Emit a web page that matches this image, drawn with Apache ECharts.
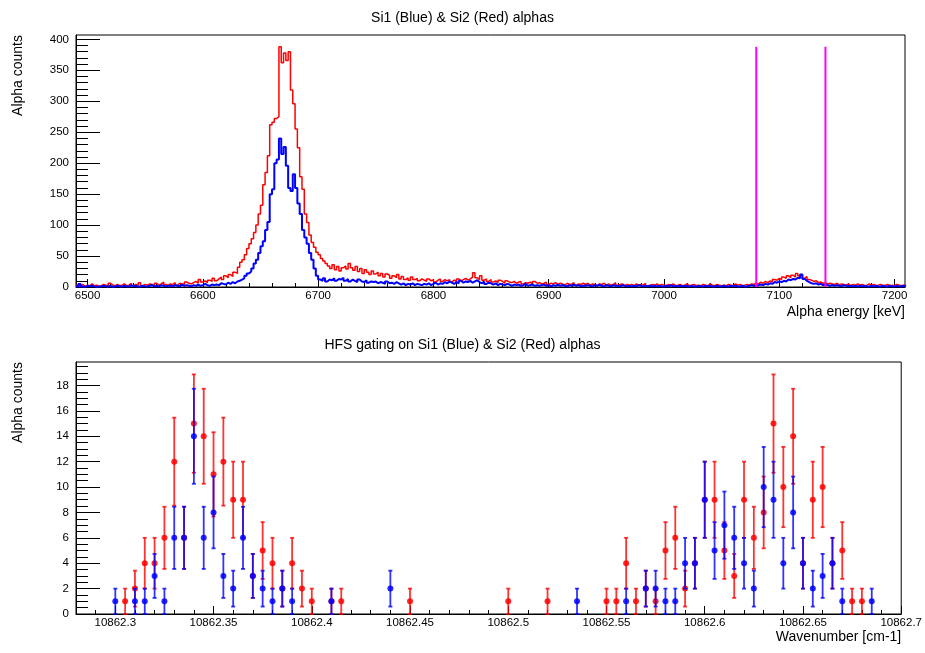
<!DOCTYPE html>
<html>
<head>
<meta charset="utf-8">
<script src="https://cdn.jsdelivr.net/npm/echarts@6/dist/echarts.min.js"></script>
<style>
  html, body { margin: 0; padding: 0; background: #fff; }
  #chart { width: 925px; height: 653px; }
</style>
</head>
<body>
<div id="chart"></div>
<script>
const FONT = 'Liberation Sans, Arial, Helvetica, sans-serif'

// alpha spectra, 2 keV bins starting at 6490 keV
const binStart = 6490
const binWidth = 2
const si2Counts = [
  3, 2, 4, 1, 3, 2, 5, 2, 3, 1,
  2, 4, 3, 2, 6, 3, 2, 4, 2, 3,
  5, 2, 3, 6, 2, 4, 3, 7, 2, 4,
  3, 5, 4, 2, 6, 3, 5, 8, 4, 3,
  5, 4, 7, 3, 6, 5, 4, 8, 6, 5,
  7, 9, 6, 12, 8, 10, 7, 11, 9, 14,
  10, 13, 16, 12, 18, 15, 20, 17, 24, 22,
  32, 40, 44, 52, 62, 70, 78, 88, 100, 118,
  132, 165, 185, 212, 262, 266, 272, 275, 388, 362,
  378, 366, 380, 318, 296, 255, 225, 178, 158, 118,
  104, 84, 72, 64, 56, 52, 46, 42, 38, 34,
  30, 36, 28, 33, 26, 31, 34, 29, 38, 31,
  27, 33, 25, 30, 22, 28, 24, 20, 26, 21,
  24, 18, 22, 16, 21, 19, 14, 18, 15, 20,
  13, 17, 12, 15, 11, 16, 12, 14, 10, 13,
  11, 9, 13, 10, 12, 8, 11, 13, 9, 12,
  10, 12, 8, 11, 9, 13, 10, 12, 14, 11,
  13, 16, 23, 15, 12, 18, 11, 13, 9, 12,
  8, 10, 7, 11, 9, 6, 10, 8, 7, 9,
  6, 8, 9, 5, 7, 6, 8, 5, 9, 6,
  7, 5, 6, 8, 4, 6, 5, 7, 4, 6,
  5, 3, 6, 4, 5, 7, 3, 5, 4, 6,
  4, 6, 3, 5, 4, 2, 5, 4, 6, 3,
  5, 3, 4, 7, 3, 4, 5, 2, 4, 3,
  4, 2, 5, 3, 4, 3, 6, 2, 3, 4,
  3, 5, 2, 4, 3, 2, 4, 3, 5, 2,
  3, 4, 2, 3, 5, 2, 3, 4, 2, 3,
  2, 4, 3, 2, 5, 3, 2, 4, 3, 2,
  3, 2, 4, 3, 2, 5, 3, 4, 2, 3,
  4, 3, 5, 4, 6, 5, 8, 6, 9, 7,
  10, 8, 12, 11, 14, 12, 16, 14, 18, 15,
  19, 16, 22, 18, 20, 14, 17, 12, 11, 9,
  10, 7, 8, 6, 7, 5, 6, 5, 4, 6,
  3, 5, 4, 3, 5, 2, 4, 3, 5, 3,
  4, 2, 3, 5, 3, 4, 2, 3, 4, 2,
  3, 4, 2, 3, 2, 4, 3, 2, 3, 2,
]
const si1Counts = [
  1, 5, 1, 0, 2, 1, 2, 1, 0, 1,
  1, 2, 1, 1, 2, 0, 1, 2, 1, 1,
  2, 1, 1, 3, 1, 2, 1, 1, 2, 1,
  1, 2, 3, 1, 2, 1, 3, 2, 1, 2,
  2, 1, 3, 2, 1, 4, 2, 3, 2, 1,
  3, 2, 4, 2, 3, 5, 3, 2, 4, 3,
  4, 3, 6, 5, 4, 7, 5, 8, 6, 9,
  10, 12, 14, 18, 22, 25, 30, 38, 44, 55,
  66, 74, 92, 105, 150, 158, 200, 206, 240, 215,
  226, 196, 160, 155, 182, 160, 135, 118, 92, 80,
  70, 55, 44, 30, 18, 12, 10, 14, 9, 12,
  11, 14, 10, 13, 12, 15, 10, 13, 9, 12,
  10, 8, 12, 9, 8, 11, 7, 9, 8, 9,
  6, 8, 7, 5, 9, 6, 7, 5, 8, 6,
  4, 6, 3, 5, 4, 6, 3, 5, 4, 3,
  5, 4, 6, 3, 5, 7, 4, 6, 5, 8,
  6, 9, 7, 5, 8, 6, 10, 7, 9, 8,
  10, 7, 9, 11, 8, 6, 9, 5, 7, 6,
  4, 6, 3, 5, 4, 3, 5, 4, 2, 4,
  3, 4, 2, 3, 5, 2, 3, 4, 2, 3,
  2, 3, 4, 2, 3, 1, 3, 2, 4, 2,
  3, 2, 1, 3, 2, 4, 2, 3, 1, 2,
  2, 3, 2, 1, 3, 2, 4, 2, 1, 3,
  2, 1, 3, 2, 2, 1, 3, 2, 1, 2,
  1, 2, 1, 3, 2, 1, 2, 1, 2, 1,
  2, 1, 2, 1, 1, 2, 1, 3, 1, 2,
  1, 2, 1, 2, 1, 1, 2, 1, 1, 2,
  1, 1, 2, 1, 2, 1, 1, 2, 1, 1,
  2, 1, 1, 2, 1, 2, 1, 1, 2, 1,
  1, 2, 3, 2, 1, 3, 4, 3, 5, 4,
  6, 5, 8, 7, 9, 8, 10, 9, 12, 11,
  13, 12, 15, 14, 20, 13, 10, 8, 6, 5,
  6, 4, 5, 3, 4, 3, 2, 3, 2, 3,
  2, 1, 3, 2, 1, 2, 1, 2, 1, 2,
  1, 2, 1, 1, 2, 1, 2, 1, 1, 2,
  1, 1, 2, 1, 1, 2, 1, 1, 2, 1,
]
const gateEnergies = [7080, 7140]
const gateHeight = 388
const energyTicks = [6500, 6600, 6700, 6800, 6900, 7000, 7100, 7200]
const countTicks = [0, 50, 100, 150, 200, 250, 300, 350, 400]

// HFS scan, gated counts per wavenumber step
const si1Wavenumber = [
  10862.300, 10862.310, 10862.315, 10862.320, 10862.325, 10862.330, 10862.335, 10862.340,
  10862.345, 10862.350, 10862.355, 10862.360, 10862.365, 10862.370, 10862.375, 10862.380,
  10862.385, 10862.390, 10862.410, 10862.440, 10862.535, 10862.560, 10862.570, 10862.575,
  10862.580, 10862.585, 10862.590, 10862.595, 10862.600, 10862.605, 10862.610, 10862.615,
  10862.620, 10862.625, 10862.630, 10862.635, 10862.640, 10862.645, 10862.650, 10862.655,
  10862.660, 10862.665, 10862.670, 10862.685,
]
const si1Hits = [
  1, 1, 1, 3, 1, 6, 6, 14,
  6, 8, 3, 2, 6, 3, 2, 1,
  2, 1, 1, 2, 1, 1, 2, 2,
  1, 1, 4, 4, 9, 5, 7, 6,
  4, 2, 10, 9, 4, 8, 4, 2,
  3, 4, 1, 1,
]
const si2Wavenumber = [
  10862.305, 10862.310, 10862.315, 10862.320, 10862.325, 10862.330, 10862.335, 10862.340,
  10862.345, 10862.350, 10862.355, 10862.360, 10862.365, 10862.370, 10862.375, 10862.380,
  10862.385, 10862.390, 10862.395, 10862.400, 10862.410, 10862.415, 10862.450, 10862.500,
  10862.520, 10862.550, 10862.555, 10862.560, 10862.565, 10862.570, 10862.575, 10862.580,
  10862.585, 10862.590, 10862.595, 10862.600, 10862.605, 10862.610, 10862.615, 10862.620,
  10862.625, 10862.630, 10862.635, 10862.640, 10862.645, 10862.650, 10862.655, 10862.660,
  10862.665, 10862.670, 10862.675, 10862.680,
]
const si2Hits = [
  1, 2, 4, 4, 6, 12, 6, 15,
  14, 11, 12, 9, 9, 3, 5, 4,
  2, 4, 2, 1, 1, 1, 1, 1,
  1, 1, 1, 4, 1, 2, 1, 5,
  6, 2, 4, 9, 9, 5, 3, 9,
  6, 8, 15, 10, 14, 4, 9, 10,
  4, 5, 1, 1,
]
const wavenumberTicks = [10862.3, 10862.35, 10862.4, 10862.45, 10862.5, 10862.55, 10862.6, 10862.65, 10862.7]
const hitTicks = [0, 2, 4, 6, 8, 10, 12, 14, 16, 18]

const RED = '#ff0000'
const BLUE = '#0000ff'

function histPoints(counts) {
  const pts = [[binStart, counts[0]]]
  counts.forEach((c, i) => pts.push([binStart + binWidth * (i + 0.5), c]))
  pts.push([binStart + binWidth * counts.length, counts[counts.length - 1]])
  return pts
}

function minorList(from, to, step, majors) {
  const out = []
  for (let v = from; v <= to + step / 2; v += step) {
    const r = Math.round(v * 1000) / 1000
    if (!majors.some(m => Math.abs(m - r) < step / 10)) out.push(r)
  }
  return out
}

const fmt = v => String(parseFloat(Number(v).toFixed(3)))
const labelText = { color: '#000', fontFamily: FONT, fontSize: 11.5 }

// a value axis drawn ROOT-style: ticks inside, own tick list
function axis(kind, grid, min, max, ticks, tickLen, withLabels, extra) {
  const a = {
    type: 'value', gridIndex: grid, min, max,
    position: kind === 'x' ? 'bottom' : 'left',
    splitLine: { show: false },
    axisLine: { show: withLabels, onZero: false, lineStyle: { color: '#000', width: 1 } },
    axisTick: { show: true, inside: true, length: tickLen, customValues: ticks, lineStyle: { color: '#000', width: 1 } },
    axisLabel: withLabels
      ? Object.assign({ customValues: ticks, formatter: fmt, margin: kind === 'x' ? 3 : 7 }, labelText)
      : { show: false },
  }
  return Object.assign(a, extra || {})
}

function errorBars(color) {
  return function (params, api) {
    const x = api.value(0)
    const n = api.value(1)
    const e = Math.sqrt(n)
    const lo = api.coord([x, n - e])
    const hi = api.coord([x, n + e])
    const st = { stroke: color, lineWidth: 1.8, opacity: 0.8 }
    return {
      type: 'group',
      children: [
        { type: 'line', shape: { x1: lo[0], y1: lo[1], x2: hi[0], y2: hi[1] }, style: st },
        { type: 'line', shape: { x1: lo[0] - 2, y1: lo[1], x2: lo[0] + 2, y2: lo[1] }, style: st },
        { type: 'line', shape: { x1: hi[0] - 2, y1: hi[1], x2: hi[0] + 2, y2: hi[1] }, style: st },
      ],
    }
  }
}

const zip = (xs, ys) => xs.map((x, i) => [x, ys[i]])

const chart = echarts.init(document.getElementById('chart'), null, { renderer: 'canvas' })

const series = [
  {
    type: 'line', xAxisIndex: 0, yAxisIndex: 0, step: 'middle', showSymbol: false,
    data: histPoints(si2Counts), lineStyle: { color: RED, width: 1.5 }, itemStyle: { color: RED },
  },
  {
    type: 'line', xAxisIndex: 0, yAxisIndex: 0, step: 'middle', showSymbol: false,
    data: histPoints(si1Counts), lineStyle: { color: BLUE, width: 2 }, itemStyle: { color: BLUE },
  },
]
gateEnergies.forEach(e => {
  series.push({
    type: 'line', xAxisIndex: 0, yAxisIndex: 0, showSymbol: false,
    data: [[e, 0], [e, gateHeight]], lineStyle: { color: '#ff00ff', width: 2 },
  })
})
series.push(
  {
    type: 'custom', xAxisIndex: 2, yAxisIndex: 2, renderItem: errorBars(RED),
    data: zip(si2Wavenumber, si2Hits), z: 3,
  },
  {
    type: 'scatter', xAxisIndex: 2, yAxisIndex: 2, symbol: 'circle', symbolSize: 6,
    data: zip(si2Wavenumber, si2Hits), itemStyle: { color: RED, opacity: 0.85 }, z: 4,
  },
  {
    type: 'custom', xAxisIndex: 2, yAxisIndex: 2, renderItem: errorBars(BLUE),
    data: zip(si1Wavenumber, si1Hits), z: 5,
  },
  {
    type: 'scatter', xAxisIndex: 2, yAxisIndex: 2, symbol: 'circle', symbolSize: 6,
    data: zip(si1Wavenumber, si1Hits), itemStyle: { color: BLUE, opacity: 0.85 }, z: 6,
  },
)

const energyMin = 6490
const energyMax = 7209
const countMax = 407
const wnMin = 10862.28
const wnMax = 10862.7
const hitMax = 19.85

chart.setOption({
  animation: false,
  backgroundColor: '#fff',
  title: [
    { text: 'Si1 (Blue) & Si2 (Red) alphas', left: 'center', top: 6,
      textStyle: { fontFamily: FONT, fontSize: 14, fontWeight: 'normal', color: '#000' } },
    { text: 'HFS gating on Si1 (Blue) & Si2 (Red) alphas', left: 'center', top: 333,
      textStyle: { fontFamily: FONT, fontSize: 14, fontWeight: 'normal', color: '#000' } },
  ],
  grid: [
    { left: 76, right: 20, top: 35, height: 252, show: true, borderColor: '#000', borderWidth: 1 },
    { left: 76, right: 21, top: 362, height: 252, show: true, borderColor: '#000', borderWidth: 1 },
  ],
  xAxis: [
    axis('x', 0, energyMin, energyMax, energyTicks, 8, true, {
      name: 'Alpha energy [keV]', nameLocation: 'end', nameGap: 0,
      nameTextStyle: { fontFamily: FONT, fontSize: 14, color: '#000', align: 'right', verticalAlign: 'top', padding: [18, 0, 0, 0] },
    }),
    axis('x', 0, energyMin, energyMax, minorList(6500, 7200, 20, energyTicks), 4, false),
    axis('x', 1, wnMin, wnMax, wavenumberTicks, 8, true, {
      name: 'Wavenumber [cm-1]', nameLocation: 'end', nameGap: 0,
      nameTextStyle: { fontFamily: FONT, fontSize: 14, color: '#000', align: 'right', verticalAlign: 'top', padding: [16, 0, 0, 0] },
    }),
    axis('x', 1, wnMin, wnMax, minorList(10862.29, 10862.7, 0.01, wavenumberTicks), 4, false),
  ],
  yAxis: [
    axis('y', 0, 0, countMax, countTicks, 24, true),
    axis('y', 0, 0, countMax, minorList(0, 400, 10, countTicks), 12, false),
    axis('y', 1, 0, hitMax, hitTicks, 24, true),
    axis('y', 1, 0, hitMax, minorList(0, 19.5, 0.5, hitTicks), 12, false),
  ],
  graphic: [
    { type: 'text', x: 18, y: 35, rotation: Math.PI / 2,
      style: { text: 'Alpha counts', font: '14px ' + FONT, fill: '#000', align: 'right', verticalAlign: 'middle' } },
    { type: 'text', x: 18, y: 362, rotation: Math.PI / 2,
      style: { text: 'Alpha counts', font: '14px ' + FONT, fill: '#000', align: 'right', verticalAlign: 'middle' } },
  ],
  series,
})
</script>
</body>
</html>
